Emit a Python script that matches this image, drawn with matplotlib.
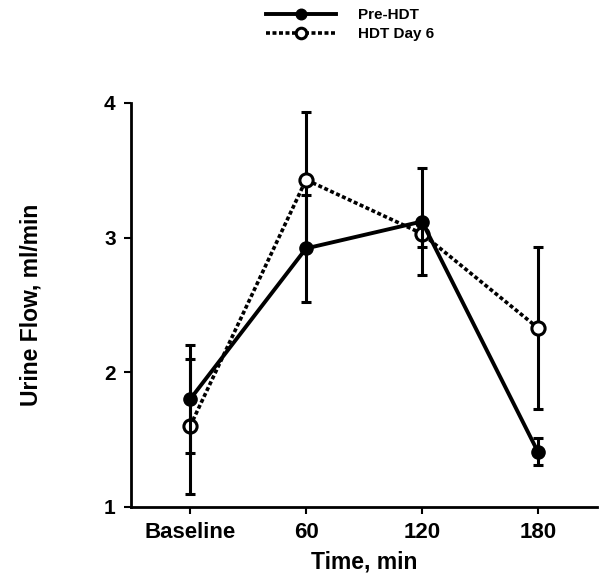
# Urine flow during the water load test: Pre-HDT vs HDT Day 6 (mean +/- SE)

import numpy as np
import matplotlib
matplotlib.use('Agg')
import matplotlib.pyplot as plt

time_labels = ['Baseline', '60', '120', '180']
pre_hdt = [1.80, 2.92, 3.12, 1.41]
pre_hdt_se = [0.40, 0.40, 0.40, 0.10]
hdt_day6 = [1.60, 3.43, 3.03, 2.33]
hdt_day6_se = [0.50, 0.50, 0.10, 0.60]
y_ticks = [1, 2, 3, 4]


def plot_urine_flow():
    plt.rcParams['font.family'] = ['Liberation Sans', 'DejaVu Sans']
    plt.rcParams['font.weight'] = 'bold'

    fig = plt.figure(figsize=(6.02, 5.83), dpi=100)
    ax = fig.add_axes([131/602, 1 - 507/583, (597 - 131)/602, (507 - 103)/583])

    x = np.arange(len(time_labels))

    # HDT day 6 first so the Pre-HDT trace sits on top
    hdt = ax.errorbar(x, hdt_day6, yerr=hdt_day6_se, color='black', linestyle=(0, (1.1, 0.7)),
                      linewidth=2.6, marker='o', markersize=9.5, markerfacecolor='white',
                      markeredgecolor='black', markeredgewidth=2.2, elinewidth=2.2,
                      capsize=3.5, capthick=2.2, zorder=2)
    pre = ax.errorbar(x, pre_hdt, yerr=pre_hdt_se, color='black', linestyle='-',
                      linewidth=2.8, marker='o', markersize=9.5, markerfacecolor='black',
                      markeredgecolor='black', elinewidth=2.2, capsize=3.5, capthick=2.2,
                      zorder=3)

    ax.set_xlim(-0.51, 3.51)
    ax.set_ylim(1, 4)
    ax.set_xticks(x)
    ax.set_xticklabels(time_labels, fontsize=16, fontweight='bold')
    ax.set_yticks(y_ticks)
    ax.set_yticklabels([str(t) for t in y_ticks], fontsize=15, fontweight='bold')
    ax.tick_params(length=5, width=1.5, pad=6)

    for side in ['top', 'right']:
        ax.spines[side].set_visible(False)
    for side in ['left', 'bottom']:
        ax.spines[side].set_linewidth(2)

    ax.set_xlabel('Time, min', fontsize=16.5, fontweight='bold', labelpad=5)
    ax.set_ylabel('Urine Flow, ml/min', fontsize=16.5, fontweight='bold', labelpad=44)

    # Legend above the plot (data lines only, no error bars)
    leg = fig.legend([pre[0], hdt[0]], ['Pre-HDT', 'HDT Day 6'], loc='upper left',
                     bbox_to_anchor=(266/602, 1 - 8/583), frameon=False,
                     fontsize=11, handlelength=4.6, handletextpad=1.4,
                     labelspacing=0.35, borderpad=0, borderaxespad=0, markerscale=0.8)

    fig.savefig('out.png', dpi=100)


if __name__ == "__main__":
    plot_urine_flow()
